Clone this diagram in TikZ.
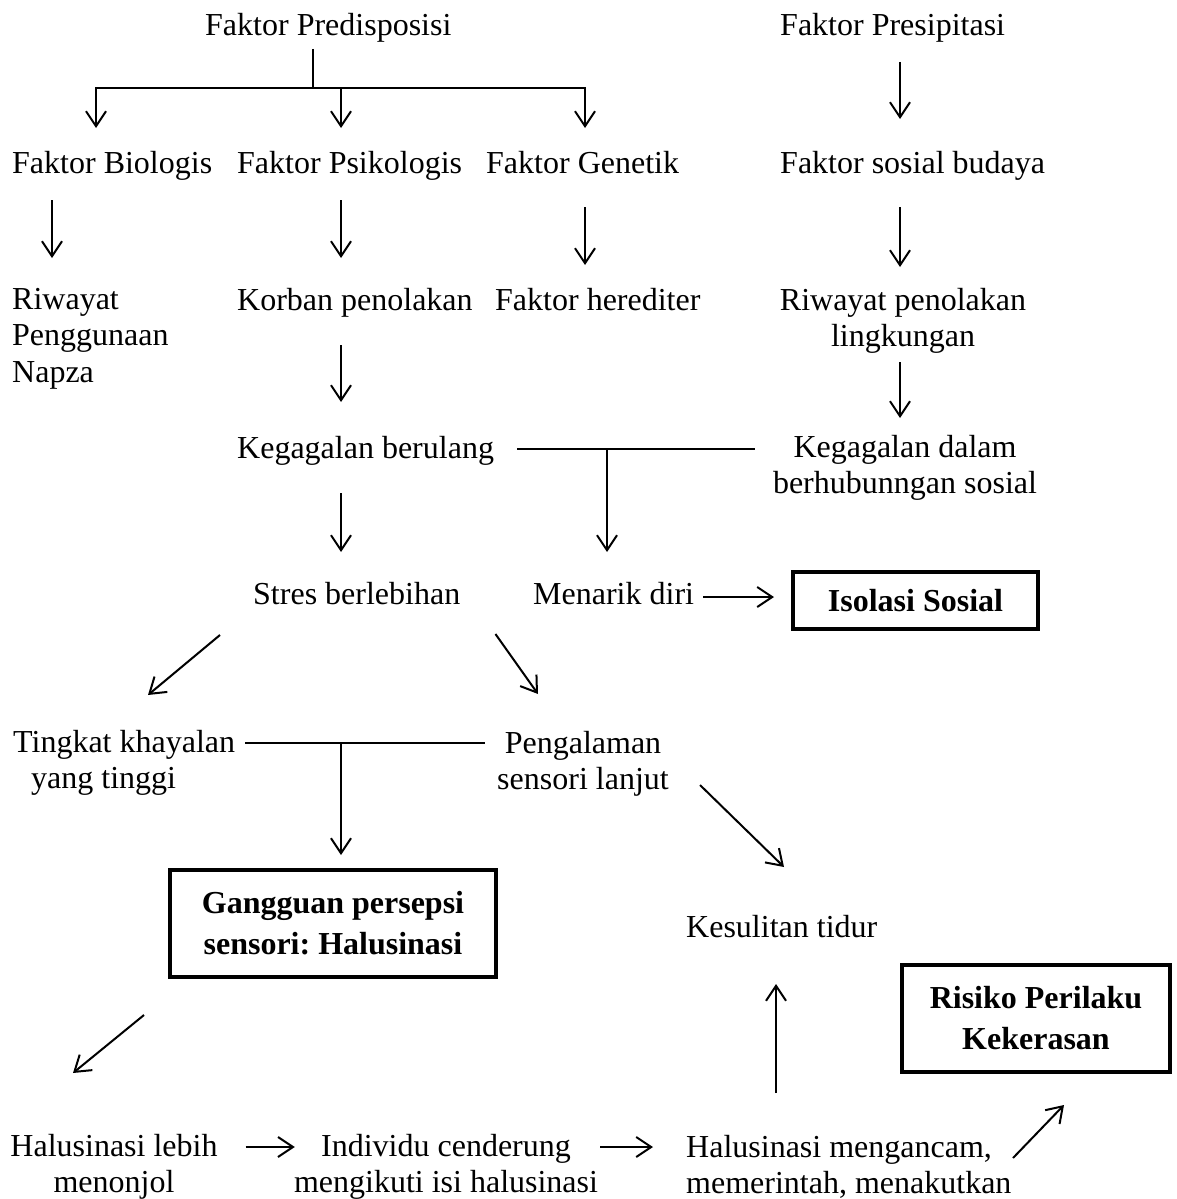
\documentclass[tikz,border=0pt]{standalone}
\usepackage{fontspec}
\setmainfont{Liberation Serif}
\usetikzlibrary{arrows.meta, calc}
\frenchspacing

\begin{document}
\begin{tikzpicture}[x=1pt, y=-1pt,
    every node/.style={inner sep=0pt, font=\fontsize{32}{36.5}\selectfont},
    ln/.style={line width=2pt},
    arr/.style={line width=2pt, -{Straight Barb[length=15pt, width=20pt]}},
    box/.style={draw, line width=4pt, align=center,
      font=\fontsize{32}{41}\selectfont\bfseries}]
  \useasboundingbox (0,0) rectangle (1177,1199);
  % columns of the vertical arrows
  \coordinate (split) at (313,88);
  \coordinate (xa) at (52,0);
  \coordinate (xb) at (96,0);
  \coordinate (xc) at (341,0);
  \coordinate (xd) at (585,0);
  \coordinate (xm) at (607,0);
  \coordinate (xp) at (900,0);

  \node[anchor=base west] (fpred) at (205,36) {Faktor Predisposisi};
  \node[anchor=base west] (fpres) at (780,36) {Faktor Presipitasi};
  \node[anchor=base west] (fbio) at (12,173) {Faktor Biologis};
  \node[anchor=base west] (fpsi) at (237,173) {Faktor Psikologis};
  \node[anchor=base west] (fgen) at (486,173) {Faktor Genetik};
  \node[anchor=base west] (fsos) at (780,173) {Faktor sosial budaya};
  \node[anchor=north west, align=left] (rwt) at (12,288) {Riwayat\\Penggunaan\\Napza};
  \node[anchor=base west] (korban) at (237,310) {Korban penolakan};
  \node[anchor=base west] (hered) at (495,310) {Faktor herediter};
  \node[anchor=north, align=center] (rpl) at (903,288) {Riwayat penolakan\\lingkungan};
  \node[anchor=base west] (kgb) at (237,458) {Kegagalan berulang};
  \node[anchor=north, align=center] (kdl) at (905,435) {Kegagalan dalam\\berhubunngan sosial};
  \node[anchor=base west] (stres) at (253,604) {Stres berlebihan};
  \node[anchor=base west] (menarik) at (533,604) {Menarik diri};
  \node[box, minimum width=245pt, minimum height=57pt] (iso) at (915.5,600.5) {Isolasi Sosial};
  \node[anchor=north west, align=left] (tkh) at (13,730) {Tingkat khayalan\\\hspace*{18pt}yang tinggi};
  \node[anchor=north, align=center] (peng) at (583,731) {Pengalaman\\sensori lanjut};
  \node[box, minimum width=326pt, minimum height=107pt] (gang) at (333,923.5) {Gangguan persepsi\\sensori: Halusinasi};
  \node[anchor=base west] (kes) at (686,937) {Kesulitan tidur};
  \node[box, minimum width=268pt, minimum height=107pt] (risk) at (1036,1018.5) {Risiko Perilaku\\Kekerasan};
  \node[anchor=north, align=center] (hlb) at (114,1134) {Halusinasi lebih\\menonjol};
  \node[anchor=north, align=center] (ind) at (446,1134) {Individu cenderung\\mengikuti isi halusinasi};
  \node[anchor=north west, align=left] (hmg) at (686,1135) {Halusinasi mengancam,\\memerintah, menakutkan};

  % predisposisi branch
  \draw[ln] ($(fpred.base -| split)+(0,13)$) -- (split);
  \draw[arr] (split) -| ($(xb |- fbio.base)+(0,-45)$);
  \draw[arr] (split -| xc) -- ($(xc |- fpsi.base)+(0,-45)$);
  \draw[arr] (split) -| ($(xd |- fgen.base)+(0,-45)$);
  \draw[arr] ($(xa |- fbio.base)+(0,27)$) -- ($(xa |- rwt.north)+(0,-30)$);
  \draw[arr] ($(xc |- fpsi.base)+(0,27)$) -- ($(xc |- korban.base)+(0,-52)$);
  \draw[arr] ($(xd |- fgen.base)+(0,34)$) -- ($(xd |- hered.base)+(0,-45)$);
  \draw[arr] ($(xc |- korban.base)+(0,35)$) -- ($(xc |- kgb.base)+(0,-56)$);
  \draw[arr] ($(xc |- kgb.base)+(0,35)$) -- ($(xc |- stres.base)+(0,-52)$);

  % presipitasi branch
  \draw[arr] ($(xp |- fpres.base)+(0,26)$) -- ($(xp |- fsos.base)+(0,-54)$);
  \draw[arr] ($(xp |- fsos.base)+(0,34)$) -- ($(xp |- rpl.north)+(0,-21)$);
  \draw[arr] ($(xp |- rpl.north)+(0,74)$) -- ($(xp |- kdl.north)+(0,-17)$);

  % joining line and isolasi sosial
  \draw[ln] ($(kgb.base east)+(23,-9)$) -- ($(kdl.north west |- kgb.base)+(-18,-9)$);
  \draw[arr] ($(xm |- kgb.base)+(0,-9)$) -- ($(xm |- menarik.base)+(0,-52)$);
  \draw[arr] ($(menarik.base east)+(9,-7)$) -- ($(iso.west |- menarik.base)+(-17,-7)$);

  % stres and halusinasi
  \draw[arr] ($(stres.base west)+(-33,31)$) -- ($(tkh.north west)+(135,-35)$);
  \draw[arr] ($(stres.base east)+(35,30)$) -- ($(peng.north)+(-45,-37)$);
  \draw[ln] ($(tkh.north east)+(10,13)$) -- ($(peng.north west)+(-12,12)$);
  \draw[arr] ($(xc |- tkh.north)+(0,13)$) -- ($(gang.north -| xc)+(0,-13)$);
  \draw[arr] ($(gang.south west)+(-24,36)$) -- ($(hlb.north)+(-41,-61)$);
  \draw[arr] ($(hlb.north east)+(28,13)$) -- ($(ind.north west)+(1,13)$);
  \draw[arr] ($(ind.north east)+(2,13)$) -- ($(hmg.north west)+(-33,12)$);
  \draw[arr] ($(peng.north)+(117,54)$) -- ($(kes.base west)+(98,-70)$);
  \draw[arr] ($(hmg.north west)+(90,-42)$) -- ($(kes.base west)+(90,47)$);
  \draw[arr] ($(hmg.north west)+(327,23)$) -- ($(risk.south)+(28,31)$);
\end{tikzpicture}
\end{document}
